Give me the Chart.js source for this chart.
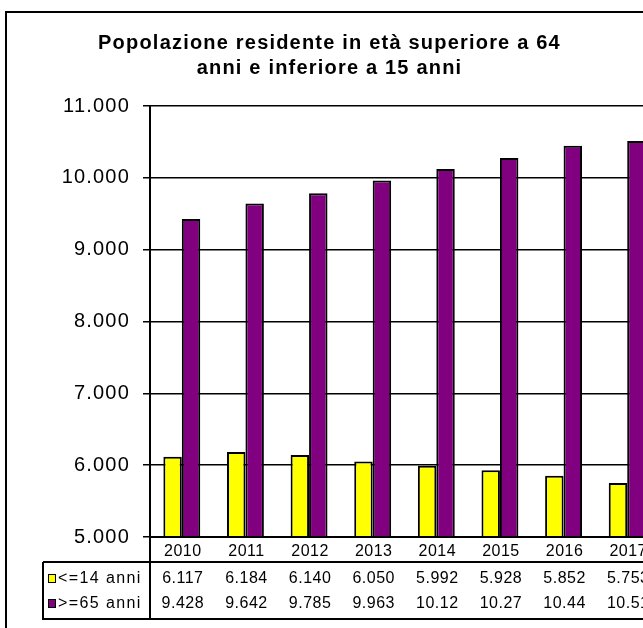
<!DOCTYPE html>
<html>
<head>
<meta charset="utf-8">
<style>
html,body{margin:0;padding:0;overflow:hidden;background:#fff;}
#wrap{position:absolute;left:0;top:0;width:662px;height:650px;}
</style>
<script src="https://cdn.jsdelivr.net/npm/chart.js@4/dist/chart.umd.min.js"></script>
</head>
<body>
<div id="wrap"><canvas id="c" width="662" height="650"></canvas></div>
<script>
// ---- data ----
const years = ['2010','2011','2012','2013','2014','2015','2016','2017'];
const under15 = [6117, 6184, 6140, 6050, 5992, 5928, 5852, 5753];
const over65 = [9428, 9642, 9785, 9963, 10124, 10276, 10445, 10514];
const seriesLabels = ['<=14 anni', '>=65 anni'];
const seriesColors = ['#FFFF00', '#800080'];
const yTicks = [5000, 6000, 7000, 8000, 9000, 10000, 11000];
const titleLines = ['Popolazione residente in età superiore a 64', 'anni e inferiore a 15 anni'];

const FONT = "'Liberation Sans', Arial, sans-serif";
function fmt(v){ return String(v).replace(/\B(?=(\d{3})+(?!\d))/g, '.'); }
function cellText(v){ return fmt(v).slice(0,5); }

const frameAndTable = {
  id: 'frameAndTable',
  beforeDraw(chart){
    const ctx = chart.ctx;
    ctx.save();
    ctx.strokeStyle = '#000';
    ctx.lineWidth = 2;
    ctx.strokeRect(6, 12, chart.width + 20, chart.height + 20);
    ctx.restore();
    ctx.letterSpacing = '1.2px';
  },
  afterDraw(chart){
    const ctx = chart.ctx;
    const a = chart.chartArea;
    const xs = chart.scales.x;
    const W = chart.width + 10;
    const rowYear = a.bottom + 15;
    const line1 = a.bottom + 25;
    const row1 = a.bottom + 42;
    const row2 = a.bottom + 67;
    const bottom = a.bottom + 82;
    const tLeft = 43;
    ctx.save();
    ctx.strokeStyle = '#000';
    ctx.lineWidth = 2;
    ctx.beginPath();
    ctx.moveTo(a.left, a.bottom); ctx.lineTo(W, a.bottom);
    ctx.moveTo(tLeft, line1); ctx.lineTo(W, line1);
    ctx.moveTo(tLeft - 1, bottom); ctx.lineTo(W, bottom);
    ctx.moveTo(tLeft, line1); ctx.lineTo(tLeft, bottom);
    ctx.moveTo(a.left, a.bottom); ctx.lineTo(a.left, bottom);
    ctx.stroke();

    ctx.fillStyle = '#000';
    ctx.font = '16px ' + FONT;
    ctx.textBaseline = 'middle';
    ctx.textAlign = 'center';
    ctx.letterSpacing = '0.5px';
    const rows = [under15, over65];
    years.forEach((y, i) => {
      const cx = xs.getPixelForValue(i) + 1;
      ctx.fillText(y, cx, rowYear);
      ctx.fillText(cellText(rows[0][i]), cx, row1);
      ctx.fillText(cellText(rows[1][i]), cx, row2);
    });
    // legend keys inside table
    ctx.textAlign = 'left';
    ctx.letterSpacing = '1.4px';
    [row1, row2].forEach((ry, k) => {
      ctx.fillStyle = seriesColors[k];
      ctx.fillRect(48, ry - 5, 8, 9);
      ctx.lineWidth = 1;
      ctx.strokeRect(48.5, ry - 4.5, 7, 8);
      ctx.fillStyle = '#000';
      ctx.fillText(seriesLabels[k], 58, ry);
    });
    ctx.restore();
  }
};

new Chart(document.getElementById('c'), {
  type: 'bar',
  data: {
    labels: years,
    datasets: [
      { label: seriesLabels[0], data: under15, backgroundColor: seriesColors[0], borderColor: '#000', borderWidth: 2, base: 5000 },
      { label: seriesLabels[1], data: over65, backgroundColor: seriesColors[1], borderColor: '#000', borderWidth: 2, base: 5000 }
    ]
  },
  options: {
    responsive: false,
    animation: false,
    layout: { padding: { left: 0, right: 3, top: 0, bottom: 0 } },
    datasets: { bar: { barPercentage: 1.0, categoryPercentage: 0.58 } },
    plugins: {
      legend: { display: false },
      tooltip: { enabled: false },
      title: {
        display: true,
        text: titleLines,
        color: '#000',
        font: { family: FONT, size: 20, weight: 'bold', lineHeight: 1.25 },
        padding: { top: 31, bottom: 25 }
      }
    },
    scales: {
      x: {
        grid: { display: false, drawTicks: false },
        border: { display: false },
        ticks: { display: false },
        afterFit(s){ s.height = 113; }
      },
      y: {
        min: 5000, max: 11000,
        afterBuildTicks(s){ s.ticks = yTicks.map(v => ({ value: v })); },
        afterFit(s){ s.width = 150; },
        ticks: {
          color: '#000',
          padding: 13,
          font: { family: FONT, size: 20 },
          callback: v => fmt(v)
        },
        grid: { color: '#000', lineWidth: 1.5, drawTicks: true, tickLength: 7, tickColor: '#000' },
        border: { display: true, color: '#000', width: 2 }
      }
    }
  },
  plugins: [frameAndTable]
});
</script>
</body>
</html>
